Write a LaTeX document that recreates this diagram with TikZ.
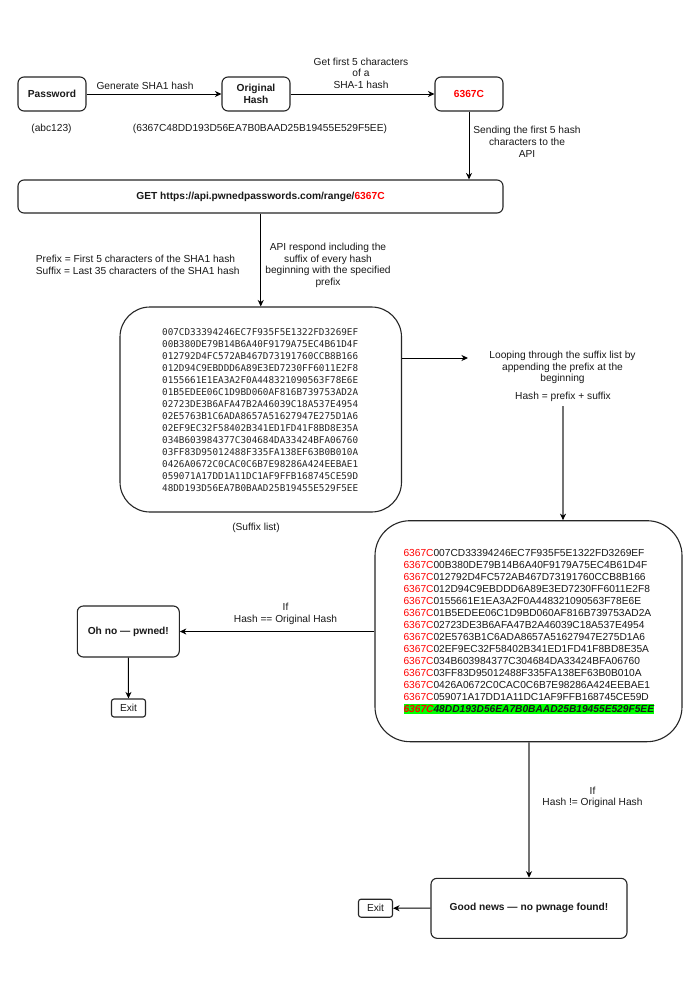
\documentclass[tikz,border=0pt]{standalone}
\usepackage{fontspec}
\setmainfont{Liberation Sans}
\setmonofont{DejaVu Sans Mono}
\usetikzlibrary{arrows.meta}
\definecolor{hred}{RGB}{255,0,0}
\definecolor{hgreen}{RGB}{0,255,0}
\tikzset{
  every node/.style={inner sep=0pt},
  txt/.style={font=\fontsize{10.2}{11.7}\selectfont, align=center, text=black!90},
  box/.style={draw=black!85, line width=1.1pt, rounded corners=6pt, fill=white, align=center,
    font=\fontsize{10.2}{11.7}\selectfont\bfseries, text=black!90},
  exitbox/.style={draw=black!85, line width=1.1pt, rounded corners=2.5pt, fill=white,
    font=\fontsize{10.2}{11.7}\selectfont, text=black!90, minimum width=34pt, minimum height=18pt},
  bigbox/.style={draw=black!85, line width=1.1pt, fill=white},
  arr/.style={draw=black, line width=1pt, -{Stealth[length=6.5pt,width=6pt,inset=2pt]}},
  garr/.style={draw=black!55, line width=1.6pt, -{Stealth[length=6.5pt,width=6pt,inset=2pt,color=black]}},
  hex/.style={font=\ttfamily\fontsize{9.3}{12}\selectfont, anchor=west, text=black!85},
  hexb/.style={font=\fontsize{10.2}{12}\selectfont, anchor=west, text=black!90},
}
\begin{document}
\begin{tikzpicture}[x=1pt,y=-1pt]
\useasboundingbox[fill=white] (0,0) rectangle (700,990);

% top row
\node[box, minimum width=68pt, minimum height=34pt] (pw) at (52,94) {Password};
\node[box, minimum width=68pt, minimum height=34pt] (oh) at (256,94) {Original\\Hash};
\node[box, minimum width=68pt, minimum height=34pt, text=hred] (pre) at (469,94) {6367C};
\draw[arr] (pw) -- (oh);
\draw[arr] (oh) -- (pre);
\node[txt] (l1) at (145,86) {Generate SHA1 hash};
\node[txt] (l2) at (361,73.3) {Get first 5 characters\\of a\\SHA-1 hash};
\node[txt] (l3) at (51.5,129.3) {(abc123)};
\node[txt] (l4) at (260,129.3) {(6367C48DD193D56EA7B0BAAD25B19455E529F5EE)};
\node[txt] (l5) at (527,142) {Sending the first 5 hash\\characters to the\\API};

% GET box
\node[box, minimum width=485pt, minimum height=33pt] (get) at (260.5,196.5)
  {GET https://api.pwnedpasswords.com/range/\textcolor{hred}{6367C}};
\draw[arr] (pre.south) -- (pre.south |- get.north);

\node[txt, align=left, anchor=west] (l6) at (35.7,265) {Prefix = First 5 characters of the SHA1 hash\\Suffix = Last 35 characters of the SHA1 hash};
\node[txt] (l7) at (328,265.3) {API respond including the\\suffix of every hash\\beginning with the specified\\prefix};

% suffix list box
\node[bigbox, rounded corners=30pt, minimum width=281.5pt, minimum height=205pt] (sl) at (260.75,409.5) {};
\draw[arr] (get.south -| sl.north) -- (sl.north);
\foreach \s [count=\i from 0] in {007CD33394246EC7F935F5E1322FD3269EF,00B380DE79B14B6A40F9179A75EC4B61D4F,012792D4FC572AB467D73191760CCB8B166,012D94C9EBDDD6A89E3ED7230FF6011E2F8,0155661E1EA3A2F0A448321090563F78E6E,01B5EDEE06C1D9BD060AF816B739753AD2A,02723DE3B6AFA47B2A46039C18A537E4954,02E5763B1C6ADA8657A51627947E275D1A6,02EF9EC32F58402B341ED1FD41F8BD8E35A,034B603984377C304684DA33424BFA06760,03FF83D95012488F335FA138EF63B0B010A,0426A0672C0CAC0C6B7E98286A424EEBAE1,059071A17DD1A11DC1AF9FFB168745CE59D,48DD193D56EA7B0BAAD25B19455E529F5EE}
  { \node[hex] (a\i) at (162,332+12*\i) {\s}; }
\node[txt] (l8) at (256,528) {(Suffix list)};

% looping text
\coordinate (lp) at (468,358);
\draw[arr] (sl.east |- lp) -- (lp);
\node[txt] (l9) at (562.5,367.5) {Looping through the suffix list by\\appending the prefix at the\\beginning};
\node[txt] (l10) at (563,397) {Hash = prefix + suffix};

% full list box
\node[bigbox, rounded corners=35pt, minimum width=307pt, minimum height=221pt] (fl) at (528.5,631.2) {};
\coordinate (hsb) at (563,406);
\draw[garr] (hsb) -- (hsb |- fl.north);
\foreach \s [count=\i from 0] in {007CD33394246EC7F935F5E1322FD3269EF,00B380DE79B14B6A40F9179A75EC4B61D4F,012792D4FC572AB467D73191760CCB8B166,012D94C9EBDDD6A89E3ED7230FF6011E2F8,0155661E1EA3A2F0A448321090563F78E6E,01B5EDEE06C1D9BD060AF816B739753AD2A,02723DE3B6AFA47B2A46039C18A537E4954,02E5763B1C6ADA8657A51627947E275D1A6,02EF9EC32F58402B341ED1FD41F8BD8E35A,034B603984377C304684DA33424BFA06760,03FF83D95012488F335FA138EF63B0B010A,0426A0672C0CAC0C6B7E98286A424EEBAE1,059071A17DD1A11DC1AF9FFB168745CE59D}
  { \node[hexb] (b\i) at (403.3,553+12*\i) {\textcolor{hred}{6367C}\s}; }
\node[hexb, fill=hgreen, inner ysep=1.6pt, font=\fontsize{10.2}{12}\selectfont\bfseries\itshape] (b13) at (403.3,709)
  {\textcolor{hred}{6367C}48DD193D56EA7B0BAAD25B19455E529F5EE};

% pwned branch
\node[box, minimum width=102pt, minimum height=51pt] (ohno) at (128.3,631.5) {Oh no — pwned!};
\draw[arr] (ohno.east -| fl.west) -- (ohno.east);
\node[txt] (l11) at (285.5,614) {If\\Hash == Original Hash};
\node[exitbox] (ex1) at (128.5,708) {Exit};
\draw[arr] (ohno) -- (ex1);

% good branch
\node[box, minimum width=196pt, minimum height=60pt] (gn) at (529,908.3) {Good news — no pwnage found!};
\draw[garr] (fl.south -| gn.north) -- (gn.north);
\node[txt] (l12) at (592.5,797.5) {If\\Hash != Original Hash};
\node[exitbox] (ex2) at (375.5,908.2) {Exit};
\draw[arr] (gn) -- (ex2);
\end{tikzpicture}
\end{document}
